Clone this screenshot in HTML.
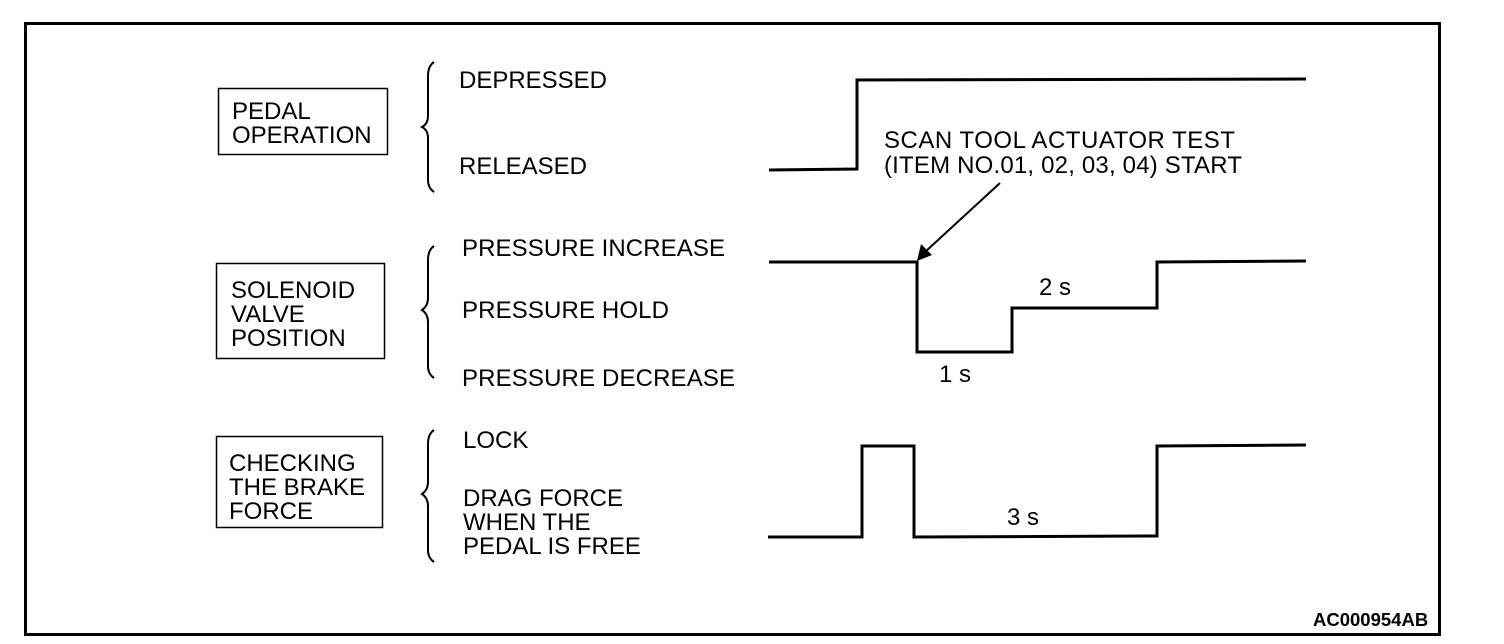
<!DOCTYPE html>
<html><head><meta charset="utf-8"><style>
html,body{margin:0;padding:0;background:#fff;}
svg{display:block;}
text{font-family:"Liberation Sans",Arial,sans-serif;font-size:24px;fill:#000;}
</style></head><body>
<svg width="1504" height="644" viewBox="0 0 1504 644" xmlns="http://www.w3.org/2000/svg">
<rect x="25.5" y="23.5" width="1414" height="611" fill="none" stroke="#000" stroke-width="3"/>
<g fill="none" stroke="#000" stroke-width="1.5">
<rect x="218.5" y="88.5" width="169" height="66"/>
<rect x="216.5" y="263.5" width="168" height="95"/>
<rect x="216.5" y="436.5" width="166" height="91"/>
</g>
<g fill="none" stroke="#000" stroke-width="2">
<path d="M434 62 Q428 66 428 76 L428 116 Q428 124 422 127 Q428 130 428 138 L428 180 Q428 188 434 192"/>
<path d="M434 246 Q428 250 428 260 L428 298 Q428 306 422 310 Q428 314 428 322 L428 366 Q428 374 434 378"/>
<path d="M434 430 Q428 434 428 444 L428 482 Q428 490 422 494 Q428 498 428 506 L428 550 Q428 558 434 562"/>
</g>
<g fill="none" stroke="#000" stroke-width="3" stroke-linejoin="miter">
<polyline points="769,170 857,169 857,80 1306,79"/>
<polyline points="769,262 917,262 917,352 1012,352 1012,308 1157,308 1157,262 1306,261"/>
<polyline points="768,537 862,537 862,446 914,446 914,537 1157,536 1157,446 1306,445"/>
</g>
<line x1="1000" y1="183" x2="925" y2="252" stroke="#000" stroke-width="2"/>
<polygon points="917,261 921,244 932,255" fill="#000"/>
<text x="232" y="119">PEDAL</text>
<text x="232" y="143">OPERATION</text>
<text x="231" y="298">SOLENOID</text>
<text x="231" y="322">VALVE</text>
<text x="231" y="346">POSITION</text>
<text x="229" y="471">CHECKING</text>
<text x="229" y="495">THE BRAKE</text>
<text x="229" y="519">FORCE</text>
<text x="459" y="88" textLength="148">DEPRESSED</text>
<text x="459" y="174" textLength="128">RELEASED</text>
<text x="462" y="256" textLength="263">PRESSURE INCREASE</text>
<text x="462" y="318" textLength="207">PRESSURE HOLD</text>
<text x="462" y="386" textLength="273">PRESSURE DECREASE</text>
<text x="463" y="448">LOCK</text>
<text x="463" y="506">DRAG FORCE</text>
<text x="463" y="530">WHEN THE</text>
<text x="463" y="554">PEDAL IS FREE</text>
<text x="884" y="148" textLength="351">SCAN TOOL ACTUATOR TEST</text>
<text x="884" y="173" textLength="358">(ITEM NO.01, 02, 03, 04) START</text>
<text x="939" y="382">1 s</text>
<text x="1039" y="295">2 s</text>
<text x="1007" y="525">3 s</text>
<text x="1313" y="626" style="font-size:18.5px;font-weight:bold">AC000954AB</text>
</svg>
</body></html>
